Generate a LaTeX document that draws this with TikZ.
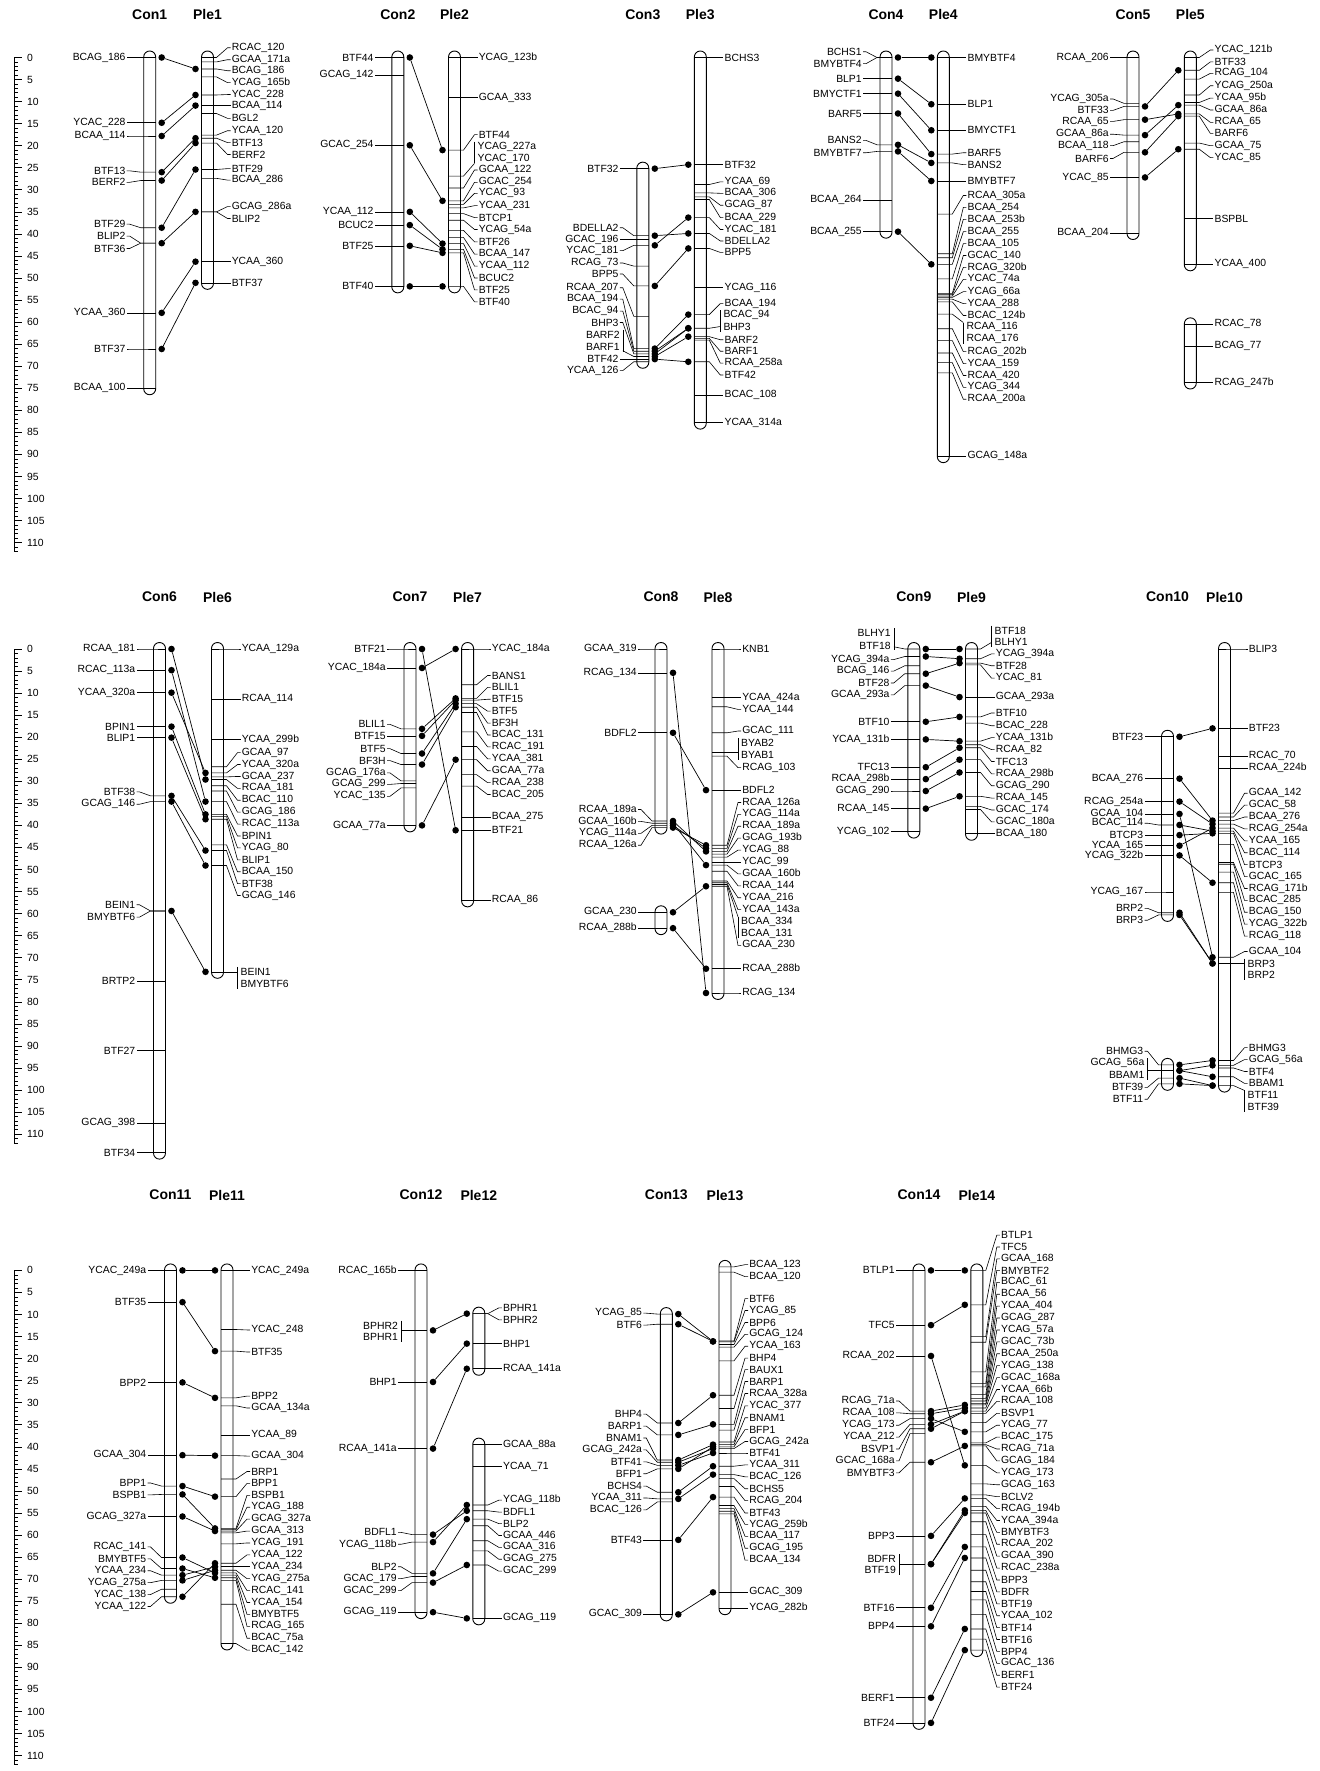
\documentclass[tikz,border=0pt]{standalone}
\usepackage{fontspec}
\setmainfont{Liberation Sans}
\newcommand\lblfont{\fontsize{10.4}{12}\selectfont}
\newcommand\ttlfont{\bfseries\fontsize{14}{16}\selectfont}
\newcounter{mk}
% chromosome bar: x, top, bottom (cM)
\newcommand\chrbar[3]{\draw[chrom] ([yshift=6.5pt]#1-6,#2) rectangle ([yshift=-6.5pt]#1+6,#3);}
% marker with label on the left / right: x, marker, label, text
\newcommand\mkL[4]{\stepcounter{mk}%
  \draw[mline] (#1+6,#2) -- (#1-9,#2) -- (#1-20,#3) -- (#1-23,#3) node[lbl,anchor=east] (m\arabic{mk}) {#4};}
\newcommand\mkR[4]{\stepcounter{mk}%
  \draw[mline] (#1-6,#2) -- (#1+9,#2) -- (#1+20,#3) -- (#1+23,#3) node[lbl,anchor=west] (m\arabic{mk}) {#4};}
% two labels on one marker, joined by a bracket: x, marker, label1, label2, meet, text1, text2
\newcommand\mkLL[7]{\stepcounter{mk}%
  \node[lbl,anchor=east] (m\arabic{mk}a) at (#1-22,#3) {#6};
  \node[lbl,anchor=east] (m\arabic{mk}b) at (#1-22,#4) {#7};
  \draw[mline] (#1+6,#2) -- (#1-9,#2) -- (#1-20,#5);
  \draw[mline] (#1-20,#3-1.1) -- (#1-20,#4+1.1);}
\newcommand\mkRR[7]{\stepcounter{mk}%
  \node[lbl,anchor=west] (m\arabic{mk}a) at (#1+22,#3) {#6};
  \node[lbl,anchor=west] (m\arabic{mk}b) at (#1+22,#4) {#7};
  \draw[mline] (#1-6,#2) -- (#1+9,#2) -- (#1+20,#5);
  \draw[mline] (#1+20,#3-1.1) -- (#1+20,#4+1.1);}
% shared marker: Con x, Con cM, Ple x, Ple cM
\newcommand\lnk[4]{\stepcounter{mk}%
  \node[spot] (a\arabic{mk}) at (#1+12,#2) {};
  \node[spot] (b\arabic{mk}) at (#3-12,#4) {};
  \draw[lnkline] (a\arabic{mk}) -- (b\arabic{mk});}
% cM scale
\newcommand\ruler[1]{%
  \draw[mline] (14,0) -- (14,112);
  \foreach \rk in {0,...,112} \draw[mline] (14,\rk) -- (18,\rk);
  \foreach \rk in {0,5,...,110} {\draw[mline] (14,\rk) -- (22,\rk);
    \node[lbl,anchor=west] (#1\rk) at (26,\rk) {\rk};}}

\begin{document}
\catcode`\_=12
\begin{tikzpicture}[x=1pt, y=-1pt,
  chrom/.style={draw, line width=0.9pt, rounded corners=6pt},
  mline/.style={line width=0.6pt},
  lbl/.style={font=\lblfont, inner sep=1pt},
  ttl/.style={font=\ttlfont, inner sep=1pt},
  spot/.style={circle, fill=black, inner sep=0pt, minimum size=6.6pt},
  lnkline/.style={line width=0.7pt}]
\path[use as bounding box] (0,0) rectangle (1319,1771);

% titles
\foreach \xx/\nm in {149.7/Con1, 207.5/Ple1, 397.8/Con2, 454.5/Ple2, 642.8/Con3, 700.3/Ple3, 886/Con4, 943.3/Ple4, 1133/Con5, 1190.3/Ple5}
  \node[ttl] (t\nm) at (\xx,15) {\nm};
\foreach \xx/\nm in {159.5/Con6, 217.5/Ple6, 410/Con7, 467.6/Ple7, 661/Con8, 718/Ple8, 913.8/Con9, 971.5/Ple9, 1167.5/Con10, 1224.5/Ple10}
  \node[ttl] (t\nm) at (\xx,597) {\nm};
\foreach \xx/\nm in {170.5/Con11, 227/Ple11, 421/Con12, 478.8/Ple12, 666.3/Con13, 725/Ple13, 919/Con14, 976.8/Ple14}
  \node[ttl] (t\nm) at (\xx,1195) {\nm};

%%%% row 1
\begin{scope}[yshift=-57.5pt, y=-4.41pt]
\ruler{ra}
% Con1 / Ple1
\chrbar{149.7}{0}{75}
\foreach \cmA/\cmB/\lab in {0/0/BCAG_186, 14.8/14.8/YCAC_228, 17.8/17.8/BCAA_114, 26/25.7/BTF13, 27.9/28.3/BERF2, 38.6/37.8/BTF29, 42.1/40.5/BLIP2, 42.1/43.3/BTF36, 57.9/57.9/YCAA_360, 66.1/66.1/BTF37, 75/75/BCAA_100}
  {\mkL{149.7}{\cmA}{\cmB}{\lab}}
\chrbar{207.5}{0}{51.1}
\foreach \cmA/\cmB/\lab in {0/-2.2/RCAC_120, 1/0.5/GCAA_171a, 2.6/3/BCAG_186, 4.4/5.7/YCAG_165b, 8.5/8.4/YCAC_228, 10.9/10.9/BCAA_114, 12.7/13.8/BGL2, 17.6/16.6/YCAA_120, 18.3/19.3/BTF13, 19.4/22/BERF2, 25.4/25.2/BTF29, 27.4/27.8/BCAA_286, 35/33.8/GCAG_286a, 35/36.5/BLIP2, 46.3/46.3/YCAA_360, 51.1/51.1/BTF37}
  {\mkR{207.5}{\cmA}{\cmB}{\lab}}
\foreach \ca/\cb in {0/2.6, 14.8/8.5, 17.8/10.9, 26/18.3, 27.9/19.4, 38.6/25.4, 42.1/35, 57.9/46.3, 66.1/51.1}
  {\lnk{149.7}{\ca}{207.5}{\cb}}
% Con2 / Ple2
\chrbar{397.8}{0}{51.9}
\foreach \cmA/\cmB/\lab in {0/0/BTF44, 4/4/GCAG_142, 19.9/19.9/GCAC_254, 35/35/YCAA_112, 38/38/BCUC2, 42.7/42.7/BTF25, 51.9/51.9/BTF40}
  {\mkL{397.8}{\cmA}{\cmB}{\lab}}
\chrbar{454.5}{0}{51.9}
\foreach \cmA/\cmB/\lab in {0/0/YCAG_123b, 9.1/9.1/GCAA_333, 21/17.5/BTF44, 29.6/25.5/GCAA_122, 32.5/28.3/GCAC_254, 33.3/30.8/YCAC_93, 34.1/33.6/YCAA_231, 35.4/36.3/BTCP1, 36.9/39/YCAG_54a, 39.2/41.8/BTF26, 40.8/44.6/BCAA_147, 42.2/47.3/YCAA_112, 43.5/50/BCUC2, 44.3/52.7/BTF25, 51.9/55.4/BTF40}
  {\mkR{454.5}{\cmA}{\cmB}{\lab}}
\mkRR{454.5}{26.9}{20.2}{22.9}{24}{YCAG_227a}{YCAC_170}
\foreach \ca/\cb in {0/21, 19.9/32.5, 35/42.2, 38/43.5, 42.7/44.3, 51.9/51.9}
  {\lnk{397.8}{\ca}{454.5}{\cb}}
% Con3 / Ple3
\chrbar{642.8}{25.2}{69}
\foreach \cmA/\cmB/\lab in {25.2/25.2/BTF32, 40.4/38.6/BDELLA2, 41.3/41.3/GCAC_196, 42.6/43.8/YCAC_181, 47.3/46.6/RCAG_73, 51.8/49.1/BPP5, 58.7/52.2/RCAA_207, 66/54.8/BCAA_194, 66.6/57.5/BCAC_94, 67.2/60.1/BHP3, 68.4/68.4/BTF42, 69/71/YCAA_126}
  {\mkL{642.8}{\cmA}{\cmB}{\lab}}
\mkLL{642.8}{67.8}{62.8}{65.6}{66.5}{BARF2}{BARF1}
\chrbar{700.3}{0}{82.8}
\foreach \cmA/\cmB/\lab in {0/0/BCHS3, 24.3/24.3/BTF32, 28.8/28.2/YCAA_69, 30.7/30.8/BCAA_306, 31.6/33.5/GCAG_87, 32.2/36.3/BCAA_229, 36.3/39/YCAC_181, 39.9/41.6/BDELLA2, 43.3/44.2/BPP5, 52.2/52.2/YCAG_116, 58.3/55.8/BCAA_194, 63.3/64/BARF2, 63.7/66.6/BARF1, 64.1/69.3/RCAA_258a, 69/72/BTF42, 76.6/76.6/BCAC_108, 82.8/82.8/YCAA_314a}
  {\mkR{700.3}{\cmA}{\cmB}{\lab}}
\mkRR{700.3}{61.4}{58.4}{61.2}{61}{BCAC_94}{BHP3}
\foreach \ca/\cb in {25.2/24.3, 40.4/39.9, 42.6/36.3, 51.8/43.3, 66/58.3, 66.6/61.4, 67.2/61.4, 67.8/63.3, 68.4/69}
  {\lnk{642.8}{\ca}{700.3}{\cb}}
% Con4 / Ple4
\chrbar{886}{0}{39.5}
\foreach \cmA/\cmB/\lab in {0/-1.3/BCHS1, 0/1.4/BMYBTF4, 4.8/4.8/BLP1, 8.2/8.2/BMYCTF1, 12.7/12.7/BARF5, 19.8/18.8/BANS2, 21.3/21.6/BMYBTF7, 32.3/32.3/BCAA_264, 39.5/39.5/BCAA_255}
  {\mkL{886}{\cmA}{\cmB}{\lab}}
\chrbar{943.3}{0}{90.4}
\foreach \cmA/\cmB/\lab in {0/0/BMYBTF4, 10.6/10.6/BLP1, 16.5/16.5/BMYCTF1, 21.9/21.6/BARF5, 23.9/24.3/BANS2, 28/28/BMYBTF7, 35.5/31.3/RCAA_305a, 44.5/34/BCAA_254, 45.4/36.7/BCAA_253b, 46.9/39.5/BCAA_255, 50.2/42.2/BCAA_105, 53.5/44.9/GCAC_140, 53.8/47.6/RCAG_320b, 54.1/50.3/YCAC_74a, 54.4/53.1/YCAG_66a, 54.8/55.8/YCAA_288, 55.4/58.5/BCAC_124b, 61.5/66.7/RCAG_202b, 64.2/69.4/YCAA_159, 67/72.1/RCAA_420, 69.2/74.8/YCAG_344, 71.5/77.5/RCAA_200a, 90.4/90.4/GCAG_148a}
  {\mkR{943.3}{\cmA}{\cmB}{\lab}}
\mkRR{943.3}{58.2}{61.2}{63.9}{60.1}{RCAA_116}{RCAA_176}
\foreach \ca/\cb in {0/0, 4.8/10.6, 8.2/16.5, 12.7/21.9, 19.8/23.9, 21.3/28, 39.5/46.9}
  {\lnk{886}{\ca}{943.3}{\cb}}
% Con5 / Ple5
\chrbar{1133}{0}{39.8}
\foreach \cmA/\cmB/\lab in {0/0/RCAA_206, 10.4/9.4/YCAG_305a, 11.1/12/BTF33, 14.1/14.5/RCAA_65, 17.6/17.4/GCAA_86a, 19.1/20/BCAA_118, 21.5/22.9/BARF6, 27.2/27.2/YCAC_85, 39.8/39.8/BCAA_204}
  {\mkL{1133}{\cmA}{\cmB}{\lab}}
\chrbar{1190.3}{0}{46.9}
\foreach \cmA/\cmB/\lab in {0/-1.7/YCAC_121b, 2.9/1/BTF33, 4.9/3.6/RCAG_104, 8.5/6.4/YCAG_250a, 10.2/9.2/YCAA_95b, 10.8/11.9/GCAA_86a, 12.8/14.7/RCAA_65, 13.3/17.2/BARF6, 19.4/20/GCAA_75, 20.8/22.7/YCAC_85, 36.5/36.5/BSPBL, 46.9/46.9/YCAA_400}
  {\mkR{1190.3}{\cmA}{\cmB}{\lab}}
\chrbar{1190.3}{60.5}{73.7}
\foreach \cmA/\cmB/\lab in {60.5/60.5/RCAC_78, 65.4/65.4/BCAG_77, 73.7/73.7/RCAG_247b}
  {\mkR{1190.3}{\cmA}{\cmB}{\lab}}
\foreach \ca/\cb in {11.1/2.9, 14.1/12.8, 17.6/10.8, 21.5/13.3, 27.2/20.8}
  {\lnk{1133}{\ca}{1190.3}{\cb}}
\end{scope}

%%%% row 2
\begin{scope}[yshift=-649pt, y=-4.41pt]
\ruler{rb}
% Con6 / Ple6
\chrbar{159.5}{0}{114.2}
\foreach \cmA/\cmB/\lab in {0/0/RCAA_181, 4.8/4.8/RCAC_113a, 9.9/9.9/YCAA_320a, 17.6/17.6/BPIN1, 20.1/20.1/BLIP1, 33.3/32.4/BTF38, 34.6/35.2/GCAG_146, 59.4/58/BEIN1, 59.4/60.8/BMYBTF6, 75.3/75.3/BRTP2, 91.1/91.1/BTF27, 107.5/107.5/GCAG_398, 114.2/114.2/BTF34}
  {\mkL{159.5}{\cmA}{\cmB}{\lab}}
\chrbar{217.5}{0}{73.2}
\foreach \cmA/\cmB/\lab in {0/0/YCAA_129a, 11.3/11.3/RCAA_114, 20.5/20.5/YCAA_299b, 26.7/23.5/GCAA_97, 28.1/26.2/YCAA_320a, 29/28.9/GCAA_237, 29.6/31.6/RCAA_181, 31/34.3/BCAC_110, 32.2/37/GCAG_186, 34.6/39.7/RCAC_113a, 37.5/42.4/BPIN1, 38/45.1/YCAG_80, 38.6/47.8/BLIP1, 44.4/50.5/BCAA_150, 45.7/53.2/BTF38, 49.1/55.9/GCAG_146}
  {\mkR{217.5}{\cmA}{\cmB}{\lab}}
\mkRR{217.5}{73.2}{73.2}{75.9}{73.2}{BEIN1}{BMYBTF6}
\foreach \ca/\cb in {0/29.6, 4.8/34.6, 9.9/28.1, 17.6/37.5, 20.1/38.6, 33.3/45.7, 34.6/49.1, 59.4/73.2}
  {\lnk{159.5}{\ca}{217.5}{\cb}}
% Con7 / Ple7
\chrbar{410}{0}{40}
\foreach \cmA/\cmB/\lab in {0/0/BTF21, 4.3/4.3/YCAC_184a, 18.1/17.1/BLIL1, 19.7/19.7/BTF15, 23.7/22.6/BTF5, 26.2/25.3/BF3H, 29.9/28.1/GCAG_176a, 30.5/30.7/GCAG_299, 31.5/33.4/YCAC_135, 40/40/GCAA_77a}
  {\mkL{410}{\cmA}{\cmB}{\lab}}
\chrbar{467.6}{0}{57}
\foreach \cmA/\cmB/\lab in {0/0/YCAC_184a, 8.1/6/BANS1, 11.2/8.7/BLIL1, 11.6/11.4/BTF15, 12.4/14.1/BTF5, 13.2/16.8/BF3H, 14.4/19.5/BCAC_131, 18.8/22.2/RCAC_191, 22.1/24.9/YCAA_381, 25.1/27.6/GCAA_77a, 28.5/30.3/RCAA_238, 31.1/33/BCAC_205, 38.1/38.1/BCAA_275, 41.1/41.1/BTF21, 57/57/RCAA_86}
  {\mkR{467.6}{\cmA}{\cmB}{\lab}}
\foreach \ca/\cb in {0/41.1, 4.3/0, 18.1/11.2, 19.7/11.6, 23.7/12.4, 26.2/13.2, 40/25.1}
  {\lnk{410}{\ca}{467.6}{\cb}}
% Con8 / Ple8
\chrbar{661}{0}{40.5}
\chrbar{661}{59.7}{63.3}
\foreach \cmA/\cmB/\lab in {0/0/GCAA_319, 5.4/5.4/RCAG_134, 19/19/BDFL2, 39/36.4/RCAA_189a, 39.5/39.1/GCAA_160b, 40/41.8/YCAG_114a, 40.5/44.5/RCAA_126a, 59.7/59.7/GCAA_230, 63.3/63.3/RCAA_288b}
  {\mkL{661}{\cmA}{\cmB}{\lab}}
\chrbar{718}{0}{78}
\foreach \cmA/\cmB/\lab in {0/0/KNB1, 11/11/YCAA_424a, 13.1/13.7/YCAA_144, 19/18.6/GCAC_111, 24.3/26.9/RCAG_103, 32/32/BDFL2, 44.5/34.8/RCAA_126a, 45.2/37.5/YCAG_114a, 45.9/40.2/RCAA_189a, 46.5/42.9/GCAG_193b, 47.2/45.6/YCAG_88, 48.3/48.3/YCAC_99, 49/51/GCAA_160b, 50.4/53.7/RCAA_144, 52.6/56.4/YCAA_216, 53/59.1/YCAA_143a, 53.8/67.2/GCAA_230, 72.5/72.5/RCAA_288b, 78/78/RCAG_134}
  {\mkR{718}{\cmA}{\cmB}{\lab}}
\mkRR{718}{23.5}{21.3}{24.1}{23.5}{BYAB2}{BYAB1}
\mkRR{718}{53.4}{61.8}{64.5}{60.7}{BCAA_334}{BCAA_131}
\foreach \ca/\cb in {5.4/78, 19/32, 39/45.9, 39.5/49, 40/45.2, 40.5/44.5, 59.7/53.8, 63.3/72.5}
  {\lnk{661}{\ca}{718}{\cb}}
% Con9 / Ple9
\chrbar{913.8}{0}{41.4}
\foreach \cmA/\cmB/\lab in {1.7/2.4/YCAG_394a, 3.8/5/BCAG_146, 5.6/7.7/BTF28, 8.3/10.4/GCAA_293a, 16.5/16.5/BTF10, 20.5/20.5/YCAA_131b, 26.8/26.8/TFC13, 29.5/29.5/RCAA_298b, 32.2/32.2/GCAG_290, 36.2/36.2/RCAA_145, 41.4/41.4/YCAG_102}
  {\mkL{913.8}{\cmA}{\cmB}{\lab}}
\mkLL{913.8}{0}{-3.6}{-0.8}{-0.5}{BLHY1}{BTF18}
\chrbar{971.5}{0}{41.9}
\foreach \cmA/\cmB/\lab in {2.2/1.1/YCAG_394a, 3.2/3.8/BTF28, 3.6/6.6/YCAC_81, 10.9/10.9/GCAA_293a, 15.4/14.5/BTF10, 16.8/17.4/BCAC_228, 20.9/20.1/YCAA_131b, 21.7/22.8/RCAA_82, 22.4/25.5/TFC13, 25.1/28.3/RCAA_298b, 28/31/GCAG_290, 33.4/33.8/RCAA_145, 35.7/36.5/GCAC_174, 36.4/39.2/GCAC_180a, 41.9/41.9/BCAA_180}
  {\mkR{971.5}{\cmA}{\cmB}{\lab}}
\mkRR{971.5}{0}{-4.2}{-1.6}{-1.5}{BTF18}{BLHY1}
\foreach \ca/\cb in {0/0, 1.7/2.2, 5.6/3.2, 8.3/10.9, 16.5/15.4, 20.5/20.9, 26.8/22.4, 29.5/25.1, 32.2/28, 36.2/33.4}
  {\lnk{913.8}{\ca}{971.5}{\cb}}
% Con10 / Ple10
\chrbar{1167.5}{19.9}{60.3}
\chrbar{1167.5}{94.3}{98.6}
\foreach \cmA/\cmB/\lab in {19.9/19.9/BTF23, 29.4/29.4/BCAA_276, 34.6/34.6/RCAG_254a, 37.4/37.4/GCAA_104, 39.9/39.5/BCAC_114, 42.2/42.2/BTCP3, 44.6/44.6/YCAA_165, 46.8/46.8/YCAG_322b, 55.1/55.1/YCAG_167, 59.8/58.8/BRP2, 60.3/61.5/BRP3, 94.3/91.2/BHMG3, 97.3/99.4/BTF39, 98.6/102.1/BTF11}
  {\mkL{1167.5}{\cmA}{\cmB}{\lab}}
\mkLL{1167.5}{95.6}{93.9}{96.6}{95.6}{GCAG_56a}{BBAM1}
\chrbar{1224.5}{0}{99}
\foreach \cmA/\cmB/\lab in {0/0/BLIP3, 18/18/BTF23, 24.3/24.3/RCAC_70, 27/27/RCAA_224b, 37.2/32.7/GCAA_142, 38.1/35.4/GCAC_58, 38.9/38.1/BCAA_276, 39.7/40.8/RCAG_254a, 40.6/43.5/YCAA_165, 41.3/46.2/BCAC_114, 41.8/48.9/BTCP3, 44.3/51.6/GCAC_165, 48.4/54.3/RCAG_171b, 48.8/57/BCAC_285, 50.6/59.7/BCAG_150, 53/62.4/YCAG_322b, 55.2/65.1/RCAG_118, 69.9/68.6/GCAA_104, 93.3/90.4/BHMG3, 94.4/93.1/GCAG_56a, 95/95.8/BTF4, 97/98.5/BBAM1}
  {\mkR{1224.5}{\cmA}{\cmB}{\lab}}
\mkRR{1224.5}{71.3}{71.3}{73.9}{71.3}{BRP3}{BRP2}
\mkRR{1224.5}{99}{101.2}{103.9}{100.1}{BTF11}{BTF39}
\foreach \ca/\cb in {19.9/18, 29.4/38.9, 34.6/39.7, 37.4/69.9, 39.9/41.3, 42.2/41.8, 44.6/40.6, 46.8/53, 59.8/71.3, 60.3/71.3, 94.3/93.3, 95.6/94.4, 95.6/97, 97.3/99, 98.6/99}
  {\lnk{1167.5}{\ca}{1224.5}{\cb}}
\end{scope}

%%%% row 3
\begin{scope}[yshift=-1270.4pt, y=-4.41pt]
\ruler{rc}
% Con11 / Ple11
\chrbar{170.5}{0}{74}
\foreach \cmA/\cmB/\lab in {0/0/YCAC_249a, 7.2/7.2/BTF35, 25.4/25.4/BPP2, 41.9/41.9/GCAA_304, 48.9/48.2/BPP1, 50.8/50.9/BSPB1, 55.8/55.8/GCAG_327a, 65.1/62.7/RCAC_141, 67.6/65.4/BMYBTF5, 69.1/68.1/YCAA_234, 70.3/70.8/YCAG_275a, 72.3/73.5/YCAC_138, 74/76.2/YCAA_122}
  {\mkL{170.5}{\cmA}{\cmB}{\lab}}
\chrbar{227}{0}{84.6}
\foreach \cmA/\cmB/\lab in {0/0/YCAC_249a, 13.4/13.5/YCAC_248, 18.3/18.5/BTF35, 28.9/28.5/BPP2, 30.7/31.2/GCAA_134a, 37.4/37.4/YCAA_89, 42/42.1/GCAA_304, 47.3/45.6/BRP1, 51.3/48.3/BPP1, 58.5/51/BSPB1, 58.8/53.7/YCAG_188, 59.1/56.4/GCAG_327a, 59.5/59.1/GCAA_313, 62/61.8/YCAG_191, 66.4/64.5/YCAA_122, 67.2/67.2/YCAA_234, 68/69.9/YCAG_275a, 68.6/72.6/RCAC_141, 69.1/75.3/YCAA_154, 69.7/78/BMYBTF5, 70.3/80.7/RCAG_165, 75.7/83.4/BCAC_75a, 84.6/86.1/BCAC_142}
  {\mkR{227}{\cmA}{\cmB}{\lab}}
\foreach \ca/\cb in {0/0, 7.2/18.3, 25.4/28.9, 41.9/42, 48.9/51.3, 50.8/58.5, 55.8/59.1, 65.1/68.6, 67.6/69.7, 69.1/67.2, 70.3/68, 74/66.4}
  {\lnk{170.5}{\ca}{227}{\cb}}
% Con12 / Ple12
\chrbar{421}{0}{77.5}
\foreach \cmA/\cmB/\lab in {0/0/RCAC_165b, 25.3/25.3/BHP1, 40.4/40.4/RCAA_141a, 59.9/59.4/BDFL1, 61.6/62.1/YCAG_118b, 68.7/67.2/BLP2, 69.4/69.9/GCAC_179, 70.8/72.6/GCAC_299, 77.5/77.5/GCAG_119}
  {\mkL{421}{\cmA}{\cmB}{\lab}}
\mkLL{421}{13.6}{12.5}{15.1}{13.6}{BPHR2}{BPHR1}
\chrbar{478.8}{9.8}{22.3}
\chrbar{478.8}{39.5}{78.9}
\foreach \cmA/\cmB/\lab in {9.8/8.5/BPHR1, 9.8/11.2/BPHR2, 16.6/16.6/BHP1, 22.3/22.3/RCAA_141a, 39.5/39.5/GCAA_88a, 44.5/44.5/YCAA_71, 53.2/52.1/YCAG_118b, 54.5/54.8/BDFL1, 56.4/57.4/BLP2, 57.9/60.1/GCAA_446, 61.3/62.8/GCAA_316, 63.6/65.5/GCAG_275, 66.8/68.2/GCAC_299, 78.9/78.9/GCAG_119}
  {\mkR{478.8}{\cmA}{\cmB}{\lab}}
\foreach \ca/\cb in {13.6/9.8, 25.3/16.6, 40.4/22.3, 59.9/54.5, 61.6/53.2, 68.7/56.4, 70.8/66.8, 77.5/78.9}
  {\lnk{421}{\ca}{478.8}{\cb}}
% Con13 / Ple13
\chrbar{666.3}{9.9}{78}
\foreach \cmA/\cmB/\lab in {9.9/9.7/YCAG_85, 12.2/12.4/BTF6, 34.6/32.6/BHP4, 37.3/35.3/BARP1, 43/38/BNAM1, 43.5/40.7/GCAG_242a, 44.2/43.4/BTF41, 45/46.1/BFP1, 50.3/48.9/BCHS4, 51.8/51.6/YCAA_311, 52.5/54.3/BCAC_126, 61.1/61.1/BTF43, 78/78/GCAC_309}
  {\mkL{666.3}{\cmA}{\cmB}{\lab}}
\chrbar{725}{-0.8}{76.6}
\foreach \cmA/\cmB/\lab in {-0.8/-1.3/BCAA_123, 0.4/1.4/BCAA_120, 16/6.4/BTF6, 16.2/9.1/YCAG_85, 16.8/11.8/BPP6, 17.4/14.5/GCAG_124, 20.5/17.2/YCAA_163, 28.3/19.9/BHP4, 31.3/22.5/BAUX1, 34.9/25.2/BARP1, 36.2/27.9/RCAA_328a, 38.9/30.7/YCAC_377, 39.5/33.4/BNAM1, 40/36.1/BFP1, 40.4/38.8/GCAG_242a, 41.4/41.4/BTF41, 44.4/44.1/YCAA_311, 46.3/46.8/BCAC_126, 47.2/49.5/BCHS5, 49/52.2/RCAG_204, 51.4/55/BTF43, 53.3/57.6/YCAG_259b, 54/60.3/BCAA_117, 54.6/63/GCAG_195, 55.2/65.7/BCAA_134, 73/73/GCAC_309, 76.6/76.6/YCAG_282b}
  {\mkR{725}{\cmA}{\cmB}{\lab}}
\foreach \ca/\cb in {9.9/16.1, 12.2/16.1, 34.6/28.3, 37.3/34.9, 43/39.5, 43.5/40.4, 44.2/41.4, 45/40, 50.3/44.4, 51.8/46.3, 61.1/51.4, 78/73}
  {\lnk{666.3}{\ca}{725}{\cb}}
% Con14 / Ple14
\chrbar{919}{0}{102.6}
\foreach \cmA/\cmB/\lab in {0/0/BTLP1, 12.4/12.4/TFC5, 19.4/19.4/RCAA_202, 31.9/29.6/RCAG_71a, 32.5/32.3/RCAA_108, 33.6/35.1/YCAG_173, 34.9/37.8/YCAA_212, 35.9/40.5/BSVP1, 37/43.2/GCAC_168a, 43.5/45.9/BMYBTF3, 60.2/60.2/BPP3, 76.5/76.5/BTF16, 80.7/80.7/BPP4, 96.9/96.9/BERF1, 102.6/102.6/BTF24}
  {\mkL{919}{\cmA}{\cmB}{\lab}}
\mkLL{919}{66.6}{65.4}{67.9}{66.6}{BDFR}{BTF19}
\chrbar{976.8}{0}{86.1}
\foreach \cmA/\cmB/\lab in {0/-8/BTLP1, 7.8/-5.3/TFC5, 15/-2.6/GCAA_168, 16.3/0/BMYBTF2, 23/2.7/BCAC_61, 25.6/5.4/BCAA_56, 26.4/8.1/YCAA_404, 28.1/10.8/GCAG_287, 29/13.5/YCAG_57a, 29.6/16.2/GCAC_73b, 30.2/18.9/BCAA_250a, 30.5/21.6/YCAG_138, 31.2/24.3/GCAC_168a, 31.9/27/YCAA_66b, 32.4/29.7/RCAA_108, 34.5/32.4/BSVP1, 36.6/35.1/YCAG_77, 39.1/37.8/BCAC_175, 39.5/40.5/RCAG_71a, 39.8/43.2/GCAG_184, 44.2/45.9/YCAG_173, 48.4/48.6/GCAG_163, 50.9/51.3/BCLV2, 51.7/54/RCAG_194b, 53.5/56.7/YCAA_394a, 54.4/59.4/BMYBTF3, 55/62.1/RCAA_202, 57/64.8/GCAA_390, 59.9/67.5/RCAC_238a, 62.7/70.2/BPP3, 65.2/72.9/BDFR, 68/75.6/BTF19, 70.6/78.3/YCAA_102, 72.8/81/BTF14, 74.7/83.7/BTF16, 78/86.4/BPP4, 81.3/89.1/GCAC_136, 83.6/91.8/BERF1, 86.1/94.5/BTF24}
  {\mkR{976.8}{\cmA}{\cmB}{\lab}}
\foreach \ca/\cb in {0/0, 12.4/7.8, 19.4/44.2, 31.9/30.5, 32.5/31.2, 33.6/36.6, 34.9/31.9, 35.9/31.9, 43.5/39.8, 60.2/51.7, 66.6/54.4, 66.6/55, 76.5/62.7, 80.7/65.2, 96.9/81.3, 102.6/86.1}
  {\lnk{919}{\ca}{976.8}{\cb}}
\end{scope}
\end{tikzpicture}
\end{document}
